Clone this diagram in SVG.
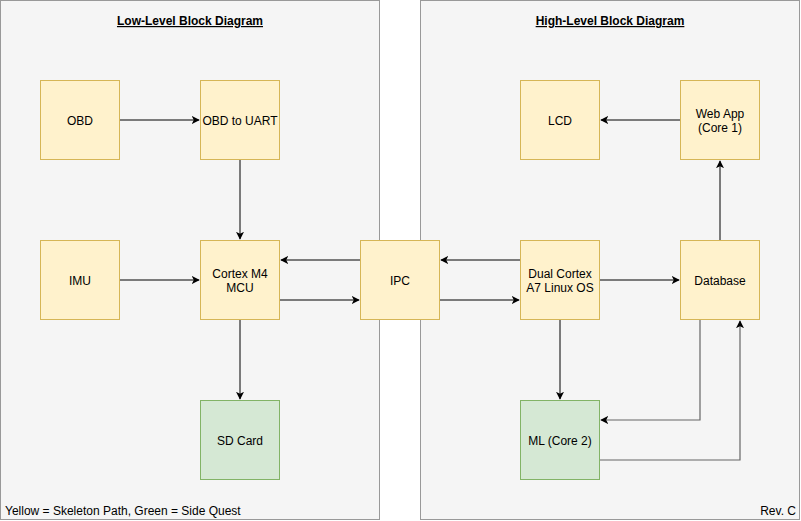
<svg xmlns="http://www.w3.org/2000/svg" width="801" height="521" viewBox="0 0 801 521">
<style>
.cont{fill:#f5f5f5;stroke:#999;stroke-width:1}
.y{fill:#fff2cc;stroke:#d6b656;stroke-width:1}
.g{fill:#d5e8d4;stroke:#82b366;stroke-width:1}
text{font-family:"Liberation Sans",Arial,sans-serif;font-size:12px;fill:#000}
.lbl{text-anchor:middle}
.title{font-weight:bold;text-decoration:underline;text-anchor:middle;fill:#000}
.e{fill:none;stroke:#000;stroke-width:1;marker-end:url(#arr)}
.eg{fill:none;stroke:#666;stroke-width:1.2;marker-end:url(#arr)}
</style>
<defs>
<marker id="arr" viewBox="0 0 10 10" refX="9" refY="5" markerWidth="8" markerHeight="8" markerUnits="userSpaceOnUse" orient="auto">
<path d="M0,0 L10,5 L0,10 L2.5,5 Z" fill="#000"/>
</marker>
</defs>
<g id="low-level">
<rect class="cont" x="0.5" y="0.5" width="379" height="519"/>
<text class="title" x="190" y="25">Low-Level Block Diagram</text>
<text x="5" y="515">Yellow = Skeleton Path, Green = Side Quest</text>
</g>
<g id="high-level">
<rect class="cont" x="420.5" y="0.5" width="379" height="519"/>
<text class="title" x="610" y="25">High-Level Block Diagram</text>
<text x="796" y="515" text-anchor="end">Rev. C</text>
</g>
<g id="connectors">
<path class="e" d="M120,120 H199"/>
<path class="e" d="M240,160 V239"/>
<path class="e" d="M120,280 H199"/>
<path class="e" d="M280,300 H359"/>
<path class="e" d="M360,260 H281"/>
<path class="e" d="M240,320 V399"/>
<path class="e" d="M520,260 H441"/>
<path class="e" d="M440,300 H519"/>
<path class="e" d="M600,280 H679"/>
<path class="e" d="M720,240 V161"/>
<path class="e" d="M680,120 H601"/>
<path class="e" d="M560,320 V399"/>
<path class="eg" d="M700,320 V420 H601"/>
<path class="eg" d="M600,460 H740 V321"/>
</g>
<g id="obd"><rect class="y" x="40.5" y="80.5" width="79" height="79"/><text class="lbl" x="80" y="125">OBD</text></g>
<g id="obd-uart"><rect class="y" x="200.5" y="80.5" width="79" height="79"/><text class="lbl" x="240" y="125">OBD to UART</text></g>
<g id="imu"><rect class="y" x="40.5" y="240.5" width="79" height="79"/><text class="lbl" x="80" y="285">IMU</text></g>
<g id="cortex-m4"><rect class="y" x="200.5" y="240.5" width="79" height="79"/><text class="lbl" x="240" y="278">Cortex M4</text><text class="lbl" x="240" y="292">MCU</text></g>
<g id="sd-card"><rect class="g" x="200.5" y="400.5" width="79" height="79"/><text class="lbl" x="240" y="445">SD Card</text></g>
<g id="ipc"><rect class="y" x="360.5" y="240.5" width="79" height="79"/><text class="lbl" x="400" y="285">IPC</text></g>
<g id="lcd"><rect class="y" x="520.5" y="80.5" width="79" height="79"/><text class="lbl" x="560" y="125">LCD</text></g>
<g id="web-app"><rect class="y" x="680.5" y="80.5" width="79" height="79"/><text class="lbl" x="720" y="118">Web App</text><text class="lbl" x="720" y="132">(Core 1)</text></g>
<g id="dual-cortex"><rect class="y" x="520.5" y="240.5" width="79" height="79"/><text class="lbl" x="560" y="278">Dual Cortex</text><text class="lbl" x="560" y="292">A7 Linux OS</text></g>
<g id="database"><rect class="y" x="680.5" y="240.5" width="79" height="79"/><text class="lbl" x="720" y="285">Database</text></g>
<g id="ml"><rect class="g" x="520.5" y="400.5" width="79" height="79"/><text class="lbl" x="560" y="445">ML (Core 2)</text></g>
</svg>
